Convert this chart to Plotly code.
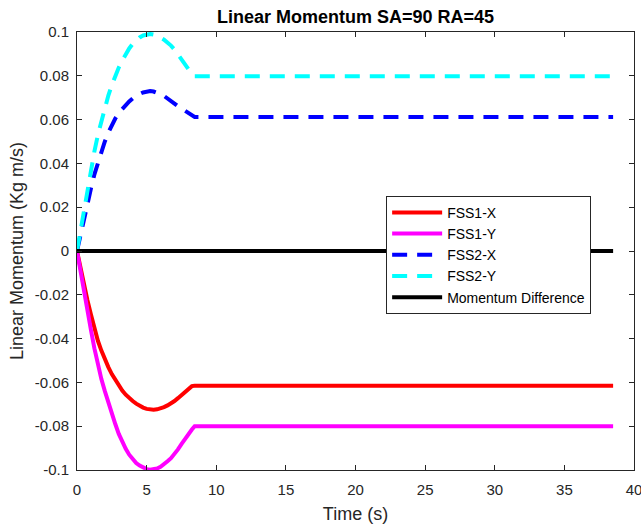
import plotly.graph_objects as go

t = [0, 0.25, 0.5, 0.75, 1.0, 1.25, 1.5, 1.75, 2.0, 2.25, 2.5, 2.75, 3.0, 3.25, 3.5, 3.75, 4.0, 4.25,
     4.5, 4.75, 5.0, 5.25, 5.5, 5.75, 6.0, 6.25, 6.5, 6.75, 7.0, 7.25, 7.5, 7.75, 8.0, 8.25, 8.45, 38.5]
fss1_x = [0, -0.008, -0.0155, -0.0225, -0.029, -0.0355, -0.041, -0.0455, -0.0495, -0.053, -0.0562,
          -0.059, -0.0615, -0.0637, -0.0656, -0.0672, -0.0685, -0.0697, -0.0707, -0.0715, -0.0721,
          -0.0724, -0.0725, -0.0723, -0.0719, -0.0713, -0.0705, -0.0696, -0.0685, -0.0672, -0.0658,
          -0.0643, -0.0628, -0.0617, -0.0615, -0.0615]
fss1_y = [0, -0.0095, -0.0187, -0.0275, -0.036, -0.0445, -0.0525, -0.0585, -0.064, -0.0695, -0.0745,
          -0.079, -0.0835, -0.0872, -0.0903, -0.093, -0.0952, -0.0968, -0.098, -0.099, -0.0996,
          -0.0999, -0.0998, -0.0993, -0.0985, -0.0974, -0.096, -0.0946, -0.0928, -0.0906, -0.0882,
          -0.0857, -0.0832, -0.0815, -0.080, -0.080]
fss2_x = [0, 0.0075, 0.015, 0.022, 0.0285, 0.035, 0.0405, 0.0455, 0.050, 0.054, 0.0575, 0.0605,
          0.063, 0.065, 0.0668, 0.0683, 0.0697, 0.0708, 0.0717, 0.0724, 0.0728, 0.073, 0.0728,
          0.0723, 0.0716, 0.0708, 0.0698, 0.0686, 0.0673, 0.0661, 0.065, 0.064, 0.063, 0.062,
          0.0612, 0.0612]
fss2_y = [0, 0.0095, 0.019, 0.028, 0.037, 0.0455, 0.053, 0.0595, 0.0655, 0.071, 0.0758, 0.080,
          0.0838, 0.087, 0.090, 0.0925, 0.0946, 0.0963, 0.0975, 0.0984, 0.0989, 0.0991, 0.0988,
          0.0982, 0.0974, 0.0965, 0.0953, 0.0938, 0.092, 0.0898, 0.0875, 0.0852, 0.0828, 0.0808,
          0.0798, 0.0798]
diff = [0] * len(t)

x_ticks = [0, 5, 10, 15, 20, 25, 30, 35, 40]
x_labels = ["0", "5", "10", "15", "20", "25", "30", "35", "40"]
y_ticks = [0.1, 0.08, 0.06, 0.04, 0.02, 0, -0.02, -0.04, -0.06, -0.08, -0.1]
y_labels = ["0.1", "0.08", "0.06", "0.04", "0.02", "0", "-0.02", "-0.04", "-0.06", "-0.08", "-0.1"]

fig = go.Figure()
fig.add_trace(go.Scatter(x=t, y=fss1_x, mode="lines", name="FSS1-X",
                         line=dict(color="#ff0000", width=4)))
fig.add_trace(go.Scatter(x=t, y=fss1_y, mode="lines", name="FSS1-Y",
                         line=dict(color="#ff00ff", width=4)))
fig.add_trace(go.Scatter(x=t, y=fss2_x, mode="lines", name="FSS2-X",
                         line=dict(color="#0000ff", width=4, dash="15px,10px")))
fig.add_trace(go.Scatter(x=t, y=fss2_y, mode="lines", name="FSS2-Y",
                         line=dict(color="#00ffff", width=4, dash="15px,10px")))
fig.add_trace(go.Scatter(x=t, y=diff, mode="lines", name="Momentum Difference",
                         line=dict(color="#000000", width=4)))

font = "Liberation Sans, Arial, Helvetica, sans-serif"
axis_common = dict(showline=True, linecolor="#262626", linewidth=1, mirror="ticks",
                   ticks="inside", ticklen=5, tickcolor="#262626", showgrid=False,
                   zeroline=False, ticklabeloverflow="allow", automargin=False,
                   tickfont=dict(family=font, size=15, color="#262626"))

fig.update_layout(
    width=641, height=528,
    margin=dict(l=77, r=7, t=32, b=58),
    paper_bgcolor="white", plot_bgcolor="white",
    title=dict(text="<b>Linear Momentum SA=90 RA=45</b>", x=(77 + 634) / 2 / 641, xanchor="center",
               y=1 - 17 / 528, yanchor="middle", font=dict(family=font, size=18, color="black")),
    xaxis=dict(range=[0, 40], tickvals=x_ticks, ticktext=x_labels, ticklabelstandoff=6,
               title=dict(text="Time (s)", font=dict(family=font, size=18, color="#262626"), standoff=10),
               **axis_common),
    yaxis=dict(range=[-0.1, 0.1], tickvals=y_ticks, ticktext=y_labels, ticklabelstandoff=4,
               title=dict(text="Linear Momentum (Kg m/s)", font=dict(family=font, size=18, color="#262626"),
                          standoff=6),
               **axis_common),
    legend=dict(x=0.555, y=0.626, xanchor="left", yanchor="top", bgcolor="white",
                bordercolor="#262626", borderwidth=1, font=dict(family=font, size=14, color="black"),
                tracegroupgap=0, itemwidth=50),
    showlegend=True,
)

fig.write_html("out.html")
